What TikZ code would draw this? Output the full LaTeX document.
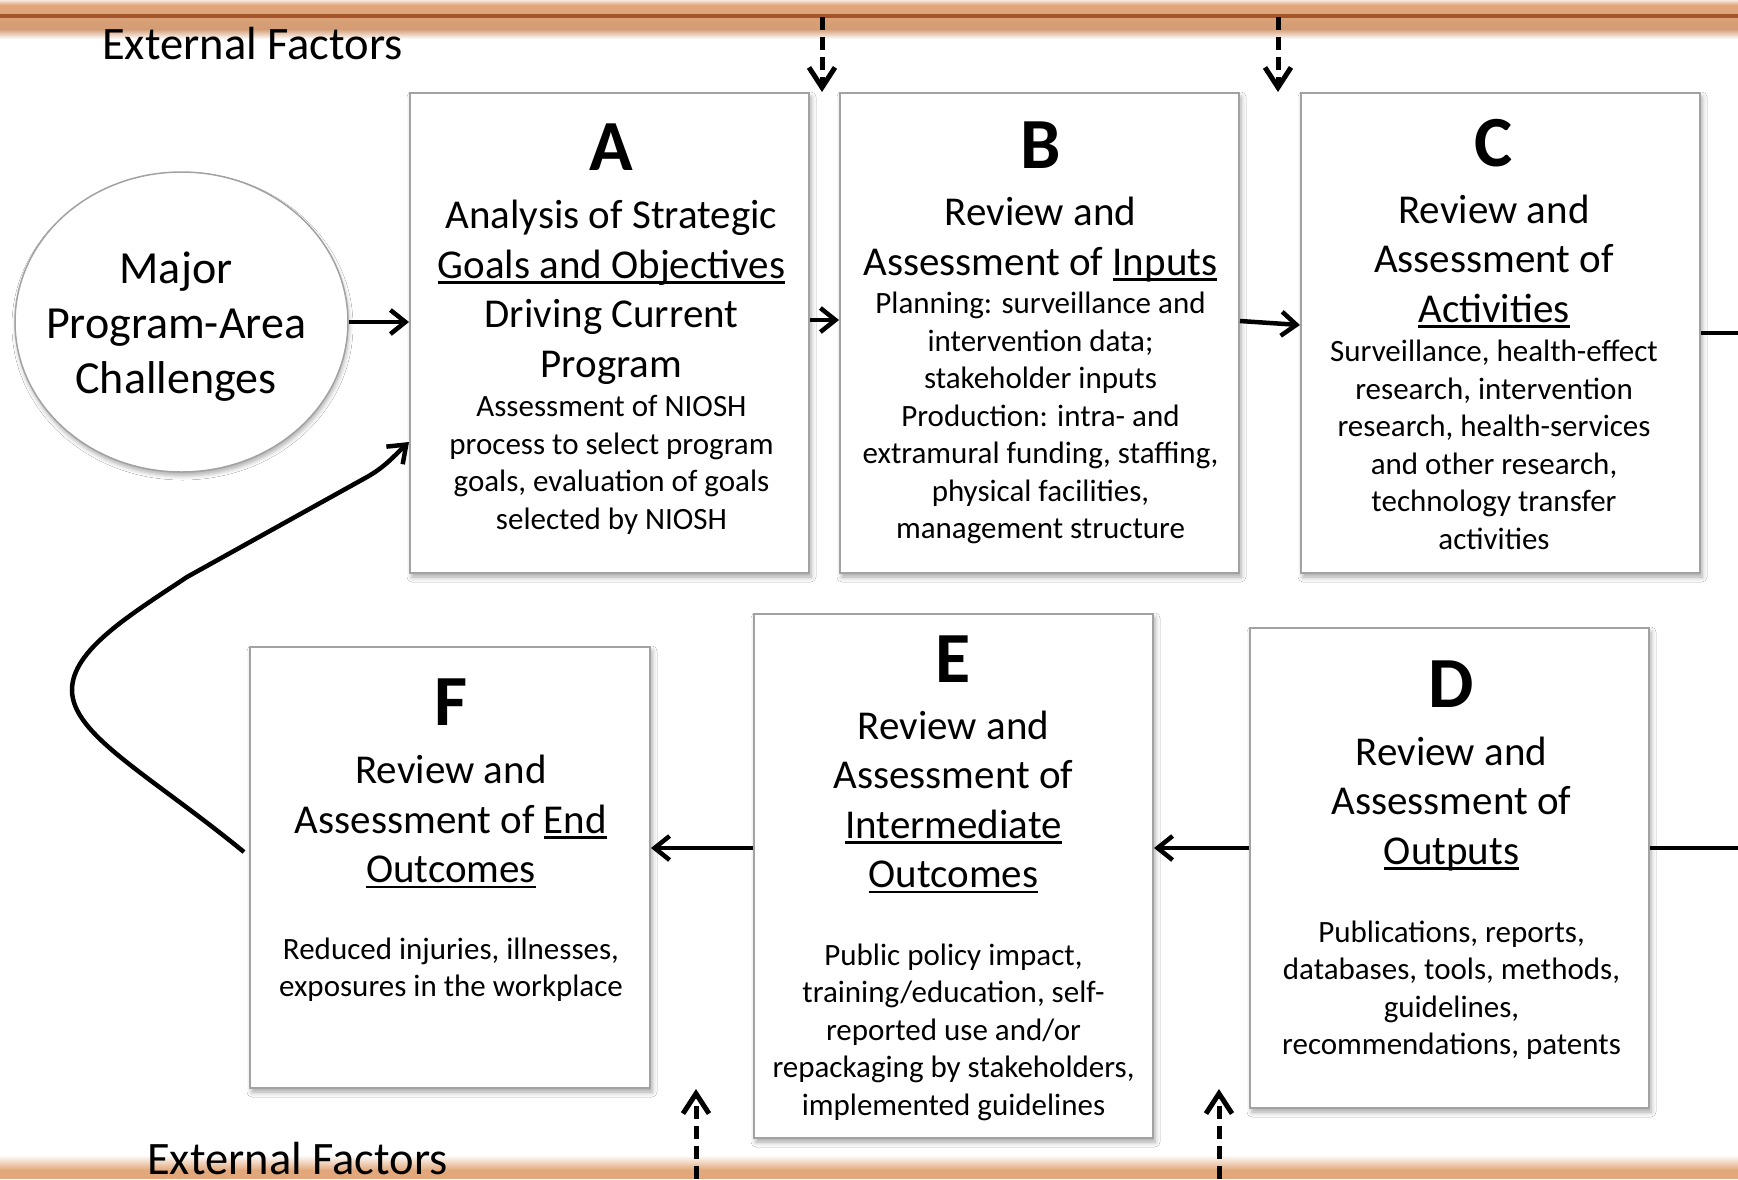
\documentclass[tikz,border=0pt]{standalone}
\usepackage{fontspec}
\setmainfont{Carlito}
\usetikzlibrary{arrows.meta,shapes.geometric,shadows.blur}

% underline drawn as a rule a little below the baseline
\newcommand{\ulin}[1]{\setbox0\hbox{#1}\rlap{\vrule width\wd0 height -3pt depth 5.5pt}\box0}

\definecolor{barorange}{HTML}{E2A87B}
\definecolor{barlow}{HTML}{D39C74}
\definecolor{barlight}{HTML}{F3D9C2}
\definecolor{bardark}{HTML}{A5552C}
\definecolor{boxline}{HTML}{A2A2A2}

\begin{document}
\begin{tikzpicture}[x=1pt,y=-1pt,
  box/.style={draw=boxline, line width=2pt, fill=white, inner sep=0pt,
    blur shadow={shadow xshift=2pt, shadow yshift=-4pt, shadow blur radius=5pt, shadow opacity=35}},
  letter/.style={font=\fontsize{72}{72}\selectfont\bfseries, inner sep=0pt},
  title/.style={font=\fontsize{41}{49.5}\selectfont, align=center, inner sep=0pt},
  detail/.style={font=\fontsize{31}{37.5}\selectfont, align=center, inner sep=0pt},
  factor/.style={font=\fontsize{46.5}{50}\selectfont, inner sep=0pt, anchor=base west},
  arr/.style={line width=4.5pt, -{Straight Barb[length=15pt,width=24pt]}},
  plain/.style={line width=4.5pt},
  dasharr/.style={line width=5pt, dash pattern=on 13pt off 7pt, -{Straight Barb[length=20pt,width=26pt]}},
]
\useasboundingbox (0,0) rectangle (1738,1179);
\fill[white] (0,0) rectangle (1738,1179);

% top band
\shade[top color=barlight!60, bottom color=barorange] (0,0) rectangle (1738,5);
\shade[top color=barorange, bottom color=barlow] (0,5) rectangle (1738,29);
\shade[top color=barlow, bottom color=white] (0,29) rectangle (1738,39);
\draw[bardark, line width=4pt] (0,16) -- (1738,16);

% bottom band
\shade[top color=white, bottom color=barorange] (0,1155) rectangle (1738,1170);
\fill[barorange] (0,1170) rectangle (1738,1179);

\node[factor] (eftop) at (102,59) {External Factors};
\node[factor] (efbot) at (147,1174) {External Factors};

% challenges
\node[ellipse, draw=boxline, line width=1.5pt, fill=white, minimum width=333pt, minimum height=300pt,
  blur shadow={shadow xshift=1pt, shadow yshift=-4pt, shadow blur radius=4pt, shadow opacity=30}] (ell) at (181.5,322) {};
\node[font=\fontsize{46}{55}\selectfont, align=center, inner sep=0pt] (elltext) at (176,326.5)
  {Major\\Program-Area\\Challenges};

% boxes
\node[box, minimum width=399pt, minimum height=480pt] (A) at (609.5,333) {};
\node[box, minimum width=399pt, minimum height=480pt] (B) at (1039.5,333) {};
\node[box, minimum width=399pt, minimum height=480pt] (C) at (1500.5,333) {};
\node[box, minimum width=400pt, minimum height=441pt] (F) at (450,867.5) {};
\node[box, minimum width=399pt, minimum height=524pt] (E) at (953.5,876) {};
\node[box, minimum width=399pt, minimum height=480pt] (D) at (1449.5,868) {};

% box A
\node[letter] (Aletter) at (611.5,147) {A};
\node[title] (Atitle) at (611.5,292.5) {Analysis of Strategic\\\ulin{Goals and Objectives}\\Driving Current\\Program};
\node[detail] (Adetail) at (611.5,465) {Assessment of NIOSH\\process to select program\\goals, evaluation of goals\\selected by NIOSH};

% box B
\node[letter] (Bletter) at (1040.5,145) {B};
\node[title] (Btitle) at (1040.5,239.5) {Review and\\Assessment of \ulin{Inputs}};
\node[detail] (Bdetail) at (1040.5,418) {Planning: surveillance and\\intervention data;\\stakeholder inputs\\Production: intra- and\\extramural funding, staffing,\\physical facilities,\\management structure};

% box C
\node[letter] (Cletter) at (1494,143) {C};
\node[title] (Ctitle) at (1494,261.5) {Review and\\Assessment of\\\ulin{Activities}};
\node[detail] (Cdetail) at (1494,445) {Surveillance, health-effect\\research, intervention\\research, health-services\\and other research,\\technology transfer\\activities};

% box F
\node[letter] (Fletter) at (451,702) {F};
\node[title] (Ftitle) at (451,822) {Review and\\Assessment of \ulin{End}\\\ulin{Outcomes}};
\node[detail] (Fdetail) at (451,969.5) {Reduced injuries, illnesses,\\exposures in the workplace};

% box E
\node[letter] (Eletter) at (953.5,659) {E};
\node[title] (Etitle) at (953.5,802) {Review and\\Assessment of\\\ulin{Intermediate}\\\ulin{Outcomes}};
\node[detail] (Edetail) at (953.5,1032) {Public policy impact,\\training/education, self-\\reported use and/or\\repackaging by stakeholders,\\implemented guidelines};

% box D
\node[letter] (Dletter) at (1451.5,684) {D};
\node[title] (Dtitle) at (1451.5,804) {Review and\\Assessment of\\\ulin{Outputs}};
\node[detail] (Ddetail) at (1451.5,990) {Publications, reports,\\databases, tools, methods,\\guidelines,\\recommendations, patents};

% flow connectors
\draw[arr] (ell.east) -- (ell.east -| A.west);
\draw[arr] ([yshift=13pt]A.east) -- ([yshift=13pt]B.west);
\draw[arr] ([yshift=12pt]B.east) -- ([yshift=8pt]C.west);
\coordinate (Cout) at (1738,333);
\draw[plain] (C.east) -- (Cout);
\coordinate (Dout) at (1738,848);
\draw[plain] ([yshift=20pt]D.east) -- (Dout);
\draw[arr] ([yshift=20pt]D.west) -- ([yshift=20pt]D.west -| E.east);
\draw[arr] ([yshift=28pt]E.west) -- ([yshift=28pt]E.west -| F.east);

% feedback loop from F back to A
\draw[line width=4.5pt, -{Straight Barb[length=16pt,width=24pt]}]
  ([xshift=-5pt,yshift=15.5pt]F.west) .. controls (150,775) and (72,735) .. (72,690)
  .. controls (72,650) and (130,615) .. (187,577)
  -- (367,477)
  .. controls (385,467) and (395,455) .. ([yshift=-109pt]A.west);

% external factor influences
\coordinate (t1s) at (822,17);  \coordinate (t1e) at (822,92);
\coordinate (t2s) at (1278,17); \coordinate (t2e) at (1278,92);
\coordinate (b1s) at (696,1179); \coordinate (b1e) at (696,1089);
\coordinate (b2s) at (1219,1179); \coordinate (b2e) at (1219,1089);
\draw[dasharr] (t1s) -- (t1e);
\draw[dasharr] (t2s) -- (t2e);
\draw[dasharr] (b1s) -- (b1e);
\draw[dasharr] (b2s) -- (b2e);
\end{tikzpicture}
\end{document}
